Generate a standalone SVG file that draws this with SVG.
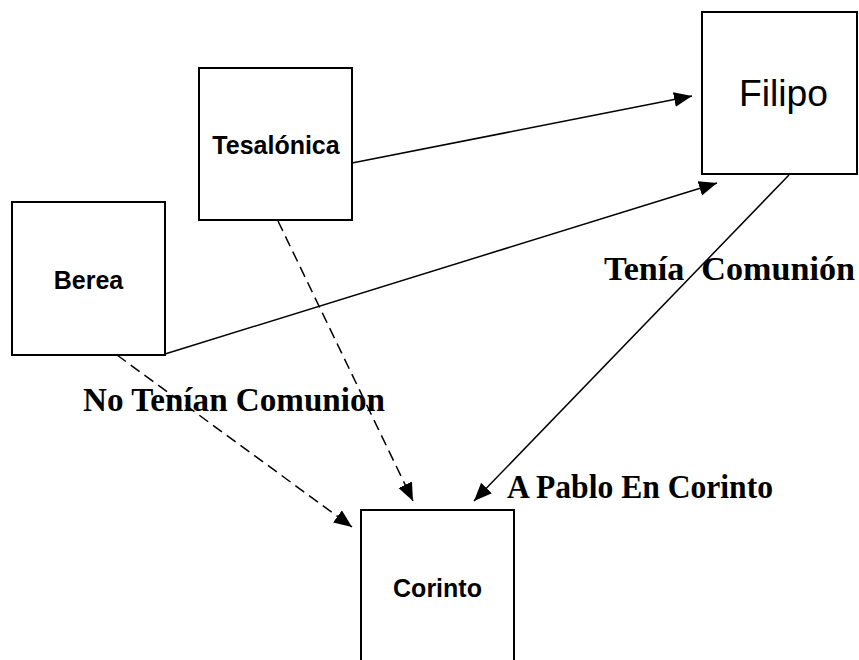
<svg xmlns="http://www.w3.org/2000/svg" width="859" height="660" viewBox="0 0 859 660">
<style>
.box{fill:#fff;stroke:#000;stroke-width:2}
.lbl{font-family:"Liberation Sans",Arial,sans-serif;font-weight:bold;font-size:25px;text-anchor:middle;fill:#000}
.big{font-family:"Liberation Sans",Arial,sans-serif;font-size:37px;fill:#000}
.note{font-family:"Liberation Serif","Times New Roman",serif;font-weight:bold;font-size:33px;fill:#000}
.ln{fill:none;stroke:#000;stroke-width:1.5;marker-end:url(#ah)}
.dash{stroke-dasharray:11 6}
</style>
<defs>
<marker id="ah" markerUnits="userSpaceOnUse" markerWidth="20" markerHeight="16" refX="18" refY="7.5" orient="auto">
<path d="M0,0 L18,7.5 L0,15 Z" fill="#000"/>
</marker>
</defs>
<g id="node-tesalonica">
<rect class="box" x="199" y="68" width="153" height="152"/>
<text class="lbl" x="276" y="154">Tesalónica</text>
</g>
<g id="node-filipo">
<rect class="box" x="702" y="12" width="155" height="162"/>
<text class="big" x="739" y="106" textLength="89" lengthAdjust="spacingAndGlyphs">Filipo</text>
</g>
<g id="node-berea">
<rect class="box" x="12" y="202" width="153" height="153"/>
<text class="lbl" x="88.5" y="289">Berea</text>
</g>
<g id="node-corinto">
<rect class="box" x="361" y="510" width="153" height="160"/>
<text class="lbl" x="437.5" y="597">Corinto</text>
</g>
<g id="connectors">
<line class="ln" x1="352" y1="163" x2="692" y2="96"/>
<line class="ln" x1="165" y1="354" x2="717" y2="183"/>
<line class="ln" x1="789" y1="175" x2="474" y2="501"/>
<line class="ln dash" x1="278" y1="221" x2="413" y2="501"/>
<line class="ln dash" x1="117" y1="355" x2="352" y2="527"/>
</g>
<g id="labels">
<text class="note" x="604" y="280" textLength="251" lengthAdjust="spacingAndGlyphs">Tenía&#160; Comunión</text>
<text class="note" x="83" y="411" textLength="302" lengthAdjust="spacingAndGlyphs">No Tenían Comunion</text>
<text class="note" x="507" y="498" textLength="266" lengthAdjust="spacingAndGlyphs">A Pablo En Corinto</text>
</g>
</svg>
